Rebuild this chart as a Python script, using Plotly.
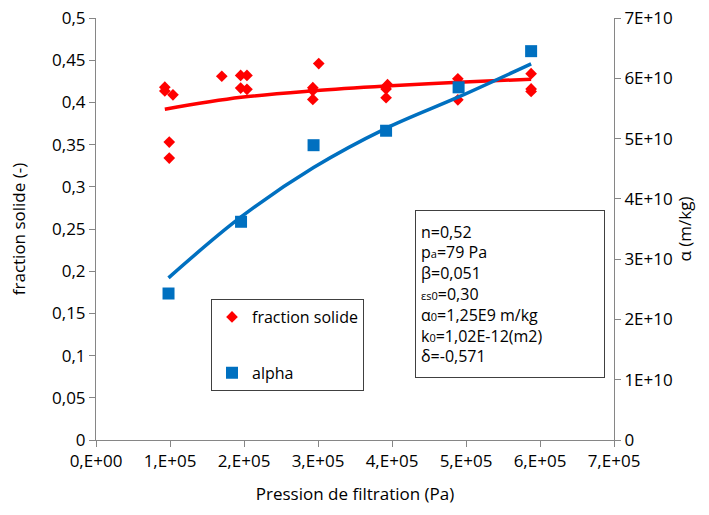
import plotly.graph_objects as go

# fraction solide measurements
fs_p = [0.93e5, 0.93e5, 1.04e5, 0.99e5, 0.99e5,
        1.70e5, 1.955e5, 2.04e5, 1.955e5, 2.04e5,
        3.01e5, 2.93e5, 2.93e5, 2.93e5,
        3.94e5, 3.92e5, 3.92e5,
        4.89e5, 4.89e5, 4.89e5,
        5.88e5, 5.88e5, 5.88e5]
fs_val = [0.418, 0.4135, 0.409, 0.353, 0.334,
          0.431, 0.432, 0.432, 0.417, 0.4155,
          0.446, 0.4175, 0.414, 0.4035,
          0.421, 0.416, 0.4055,
          0.428, 0.423, 0.403,
          0.434, 0.416, 0.413]

# fraction solide model curve
fs_curve_p = [0.93e5, 1.96e5, 2.94e5, 3.92e5, 4.90e5, 5.88e5]
fs_curve = [0.392, 0.406, 0.4138, 0.4194, 0.4238, 0.4275]

# alpha measurements
al_p = [0.98e5, 1.96e5, 2.94e5, 3.92e5, 4.90e5, 5.88e5]
al_val = [2.43e10, 3.62e10, 4.89e10, 5.13e10, 5.85e10, 6.45e10]

# alpha model curve
al_curve_p = [0.98e5, 1.96e5, 2.94e5, 3.92e5, 4.90e5, 5.88e5]
al_curve = [2.69e10, 3.70e10, 4.52e10, 5.17e10, 5.69e10, 6.24e10]

x_ticks = [0, 1e5, 2e5, 3e5, 4e5, 5e5, 6e5, 7e5]
x_ticktext = ["0,E+00", "1,E+05", "2,E+05", "3,E+05", "4,E+05", "5,E+05", "6,E+05", "7,E+05"]
y_ticks = [0, 0.05, 0.1, 0.15, 0.2, 0.25, 0.3, 0.35, 0.4, 0.45, 0.5]
y_ticktext = ["0", "0,05", "0,1", "0,15", "0,2", "0,25", "0,3", "0,35", "0,4", "0,45", "0,5"]
y2_ticks = [0, 1e10, 2e10, 3e10, 4e10, 5e10, 6e10, 7e10]
y2_ticktext = ["0", "1E+10", "2E+10", "3E+10", "4E+10", "5E+10", "6E+10", "7E+10"]

RED = "#FF0000"
BLUE = "#0070C0"
AX = "#868686"
FONT = "Open Sans"

fig = go.Figure()

fig.add_trace(go.Scatter(x=fs_curve_p, y=fs_curve, mode="lines", line=dict(color=RED, width=3.5, shape="spline"),
                         showlegend=False, hoverinfo="skip"))
fig.add_trace(go.Scatter(x=al_curve_p, y=al_curve, mode="lines", line=dict(color=BLUE, width=3.5, shape="spline"),
                         yaxis="y2", showlegend=False, hoverinfo="skip"))
fig.add_trace(go.Scatter(x=fs_p, y=fs_val, mode="markers", name="fraction solide",
                         marker=dict(symbol="diamond", size=9, color=RED), legendgroup="a"))
fig.add_trace(go.Scatter(x=al_p, y=al_val, mode="markers", name="alpha", yaxis="y2",
                         marker=dict(symbol="square", size=12, color=BLUE), legendgroup="b"))

axis_common = dict(showline=True, linecolor=AX, linewidth=1, ticks="outside", tickcolor=AX,
                   ticklen=6, showgrid=False, zeroline=False, automargin=False,
                   ticklabeloverflow="allow",
                   tickfont=dict(family=FONT, size=17, color="#000000"))

fig.update_layout(
    width=709, height=515,
    margin=dict(l=96, r=95, t=18, b=75, autoexpand=False),
    paper_bgcolor="white", plot_bgcolor="white",
    font=dict(family=FONT, size=17, color="#000000"),
    xaxis=dict(range=[0, 7e5], tickvals=x_ticks, ticktext=x_ticktext,
               title=dict(text="Pression de filtration (Pa)", font=dict(family=FONT, size=17), standoff=16),
               **axis_common),
    yaxis=dict(range=[0, 0.5], tickvals=y_ticks, ticktext=y_ticktext,
               title=dict(text="fraction solide (-)", font=dict(family=FONT, size=17), standoff=22),
               **axis_common),
    yaxis2=dict(range=[0, 7e10], tickvals=y2_ticks, ticktext=y2_ticktext, overlaying="y", side="right",
                title=dict(text="α (m/kg)", font=dict(family=FONT, size=17), standoff=4),
                **axis_common),
    legend=dict(x=(211 - 96) / 518, y=0.334, xanchor="left", yanchor="top", bgcolor="white",
                bordercolor="#404040", borderwidth=1, tracegroupgap=32,
                font=dict(family=FONT, size=16)),
    showlegend=True,
)

sub = "<span style='font-size:11px'>{}</span>"
box_text = "<br>".join([
    "n=0,52",
    "p" + sub.format("a") + "=79 Pa",
    "β=0,051",
    sub.format("εs0") + "=0,30",
    "α" + sub.format("0") + "=1,25E9 m/kg",
    "k" + sub.format("0") + "=1,02E-12(m2)",
    "δ=-0,571",
])
fig.add_annotation(xref="paper", yref="paper", x=(415 - 96) / 518, y=(440 - 210) / 422,
                   xanchor="left", yanchor="top", text=box_text, showarrow=False, align="left",
                   width=178, height=156, valign="middle",
                   bordercolor="#404040", borderwidth=1, borderpad=5, bgcolor="white",
                   font=dict(family=FONT, size=16, color="#000000"))

fig.write_html("out.html", config={"displayModeBar": False},
               post_script="document.body.style.margin='0px';")
